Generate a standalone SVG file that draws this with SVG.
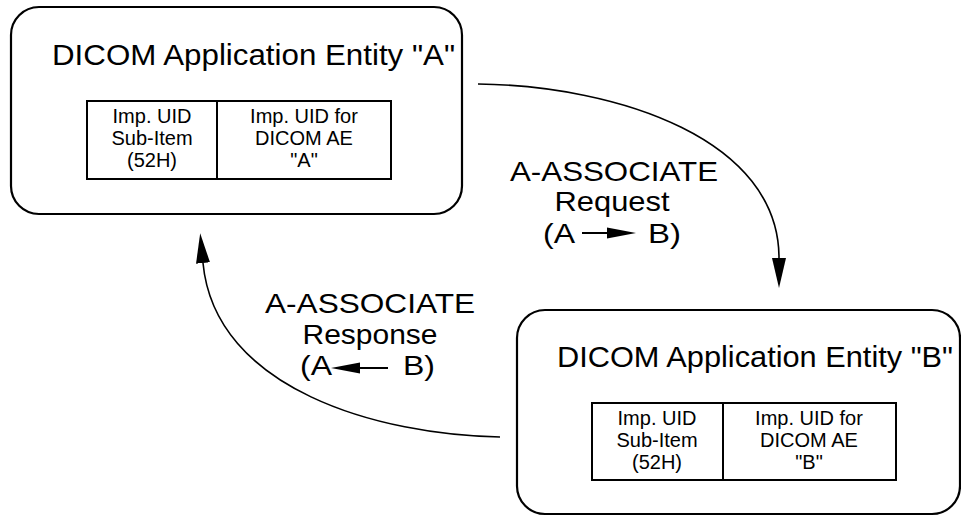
<svg xmlns="http://www.w3.org/2000/svg" width="961" height="516" viewBox="0 0 961 516">
<defs>
<style>
text{font-family:"Liberation Sans",Arial,sans-serif;fill:#000}
.node{fill:#fff;stroke:#000;stroke-width:2.2}
.tbl{fill:none;stroke:#000;stroke-width:2}
.title{font-size:30px}
.cell{font-size:20px;text-anchor:middle}
.lbl{font-size:28px}
.mid{text-anchor:middle}
.conn{fill:none;stroke:#000;stroke-width:1.6}
.head{fill:#000;stroke:none}
</style>
<marker id="ah" markerUnits="userSpaceOnUse" markerWidth="32" markerHeight="16" viewBox="0 -8 32 16" refX="0" refY="0" orient="auto">
<path d="M0,-7 L30,0 L0,7 Z" fill="#000"/>
</marker>
</defs>
<rect width="961" height="516" fill="#fff"/>
<g id="nodeA">
<rect class="node" x="11" y="7" width="451" height="207" rx="28" ry="28"/>
<text class="title" x="52" y="65" textLength="403" lengthAdjust="spacingAndGlyphs">DICOM Application Entity "A"</text>
<rect class="tbl" x="87" y="101" width="304" height="78"/>
<line class="tbl" x1="217" y1="101" x2="217" y2="179"/>
<text class="cell" x="152" y="123">Imp. UID</text>
<text class="cell" x="152" y="145">Sub-Item</text>
<text class="cell" x="152" y="167">(52H)</text>
<text class="cell" x="304" y="123">Imp. UID for</text>
<text class="cell" x="304" y="145">DICOM AE</text>
<text class="cell" x="304" y="167">"A"</text>
</g>
<g id="nodeB">
<rect class="node" x="517" y="310" width="443" height="204" rx="28" ry="28"/>
<text class="title" x="557" y="367" textLength="396" lengthAdjust="spacingAndGlyphs">DICOM Application Entity "B"</text>
<rect class="tbl" x="592" y="403" width="304" height="77"/>
<line class="tbl" x1="723" y1="403" x2="723" y2="480"/>
<text class="cell" x="657" y="425">Imp. UID</text>
<text class="cell" x="657" y="447">Sub-Item</text>
<text class="cell" x="657" y="469">(52H)</text>
<text class="cell" x="809" y="425">Imp. UID for</text>
<text class="cell" x="809" y="447">DICOM AE</text>
<text class="cell" x="809" y="469">"B"</text>
</g>
<g id="connectors">
<path class="conn" d="M478,84 C620,86 779,140 779,258" marker-end="url(#ah)"/>
<path class="conn" d="M500,437 C380,435 215,390 203,263" marker-end="url(#ah)"/>
</g>
<g id="label-request">
<text class="lbl" x="510" y="181" textLength="208" lengthAdjust="spacingAndGlyphs">A-ASSOCIATE</text>
<text class="lbl mid" x="612" y="211" textLength="115" lengthAdjust="spacingAndGlyphs">Request</text>
<text class="lbl" x="543" y="243" textLength="32" lengthAdjust="spacingAndGlyphs">(A</text>
<line x1="582" y1="233" x2="610" y2="233" stroke="#000" stroke-width="2"/>
<polygon class="head" points="607,227.5 636,233 607,238.5"/>
<text class="lbl" x="648" y="243" textLength="33" lengthAdjust="spacingAndGlyphs">B)</text>
</g>
<g id="label-response">
<text class="lbl" x="265" y="313" textLength="210" lengthAdjust="spacingAndGlyphs">A-ASSOCIATE</text>
<text class="lbl mid" x="370" y="344" textLength="135" lengthAdjust="spacingAndGlyphs">Response</text>
<text class="lbl" x="300" y="375" textLength="32" lengthAdjust="spacingAndGlyphs">(A</text>
<polygon class="head" points="360,362.5 331,368 360,373.5"/>
<line x1="357" y1="368" x2="388" y2="368" stroke="#000" stroke-width="2"/>
<text class="lbl" x="403" y="375" textLength="32" lengthAdjust="spacingAndGlyphs">B)</text>
</g>
</svg>
